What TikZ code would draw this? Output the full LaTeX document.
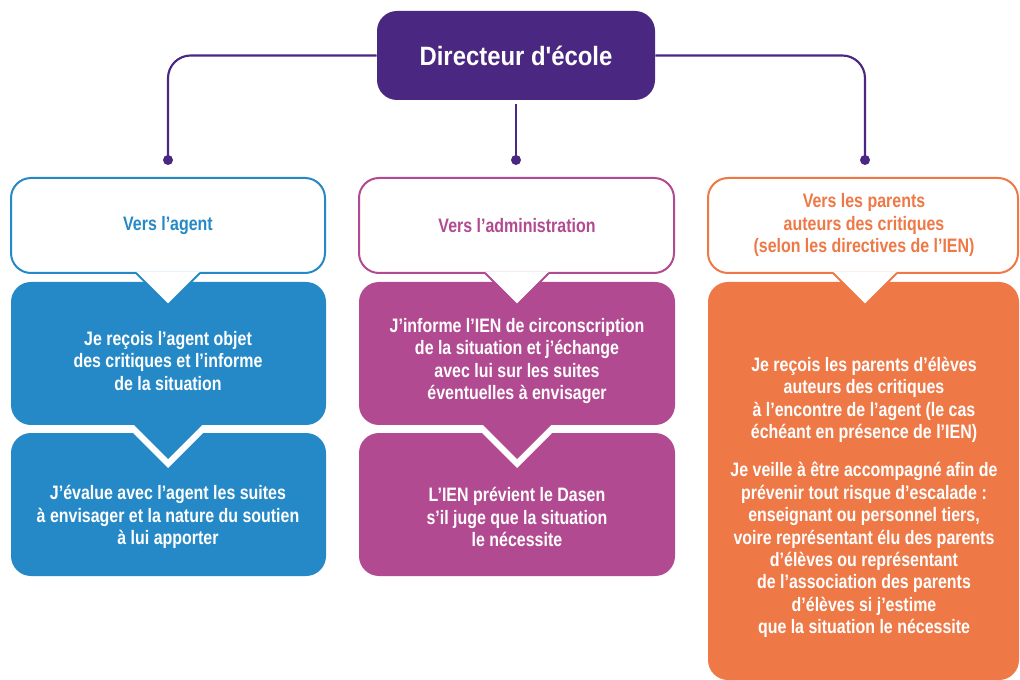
\documentclass[tikz,border=0pt]{standalone}
\usepackage{fontspec}
\setmainfont{Liberation Sans Bold}[FakeStretch=0.82]
\newfontfamily\titlefont{Liberation Sans Bold}[FakeStretch=0.9]
\definecolor{cpurple}{HTML}{4A2882}
\definecolor{cblue}{HTML}{2589C8}
\definecolor{cmag}{HTML}{B24A91}
\definecolor{corange}{HTML}{EE7846}
\begin{document}
\begin{tikzpicture}[x=0.75pt, y=-0.75pt]
\tikzset{
  txt/.style={align=center, font=\fontsize{14.6pt}{16.8pt}\selectfont, inner sep=0pt},
  conn/.style={draw=cpurple, line width=1.6pt, rounded corners=17pt},
  dot/.style={circle, fill=cpurple, inner sep=0pt, minimum size=7.5pt},
  rbox/.style={rounded corners=15pt},
  outl/.style={line width=1.5pt},
}
\useasboundingbox (0,0) rectangle (1020,680);

% Director
\node[fill=cpurple, rbox, minimum width=278*0.75pt, minimum height=89*0.75pt,
      text=white, font=\titlefont\fontsize{19.9pt}{24pt}\selectfont] (dir) at (516,55.5) {Directeur d'école};

\node[dot] (p1) at (168,160) {};
\node[dot] (p2) at (516,160) {};
\node[dot] (p3) at (865,160) {};
\draw[conn] (dir.west) -- (p1.center |- dir.west) -- (p1.center);
\draw[conn] ([yshift=-3pt]dir.south) -- (p2.center);
\draw[conn] (dir.east) -- (p3.center |- dir.east) -- (p3.center);

% ---------- Left column (blue)
\fill[cblue, rbox] (11,433) rectangle (326,576);
\fill[white] (125,425) -- (211,425) -- (168,468) -- cycle;
\fill[cblue, rbox] (11,282) rectangle (326,425);
\fill[cblue] (133,424) -- (203,424) -- (168,459) -- cycle;
\filldraw[fill=white, draw=cblue, outl, rbox] (11,178) rectangle (325,273);
\fill[white] (136,272) -- (200,272) -- (168,304) -- cycle;
\draw[cblue, outl] (136,273) -- (168,305) -- (200,273);

% ---------- Middle column (magenta)
\fill[cmag, rbox] (359,433) rectangle (675,576);
\fill[white] (474,425) -- (560,425) -- (517,468) -- cycle;
\fill[cmag, rbox] (359,282) rectangle (675,425);
\fill[cmag] (482,424) -- (552,424) -- (517,459) -- cycle;
\filldraw[fill=white, draw=cmag, outl, rbox] (359,178) rectangle (674,273);
\fill[white] (485,272) -- (549,272) -- (517,304) -- cycle;
\draw[cmag, outl] (485,273) -- (517,305) -- (549,273);

% ---------- Right column (orange)
\fill[corange, rbox] (708,282) rectangle (1019,680);
\filldraw[fill=white, draw=corange, outl, rbox] (708,178) rectangle (1018,273);
\fill[white] (833,272) -- (897,272) -- (865,304) -- cycle;
\draw[corange, outl] (833,273) -- (865,305) -- (897,273);

% ---------- Texts
\node[txt, text=cblue] (h1) at (168,226) {Vers l’agent};
\node[txt, text=white] (a1) at (168,361) {Je reçois l’agent objet\\des critiques et l’informe\\de la situation};
\node[txt, text=white] (b1) at (168,517) {J’évalue avec l’agent les suites\\à envisager et la nature du soutien\\à lui apporter};

\node[txt, text=cmag] (h2) at (517,226) {Vers l’administration};
\node[txt, text=white] (a2) at (517,361) {J’informe l’IEN de circonscription\\de la situation et j’échange\\avec lui sur les suites\\éventuelles à envisager};
\node[txt, text=white] (b2) at (517,517) {L’IEN prévient le Dasen\\s’il juge que la situation\\le nécessite};

\node[txt, text=corange] (h3) at (864,225) {Vers les parents\\auteurs des critiques\\(selon les directives de l’IEN)};
\node[txt, text=white] (a3) at (864,400) {Je reçois les parents d’élèves\\auteurs des critiques\\à l’encontre de l’agent (le cas\\échéant en présence de l’IEN)};
\node[txt, text=white] (b3) at (864,550) {Je veille à être accompagné afin de\\prévenir tout risque d’escalade :\\enseignant ou personnel tiers,\\voire représentant élu des parents\\d’élèves ou représentant\\de l’association des parents\\d’élèves si j’estime\\que la situation le nécessite};
\end{tikzpicture}
\end{document}
